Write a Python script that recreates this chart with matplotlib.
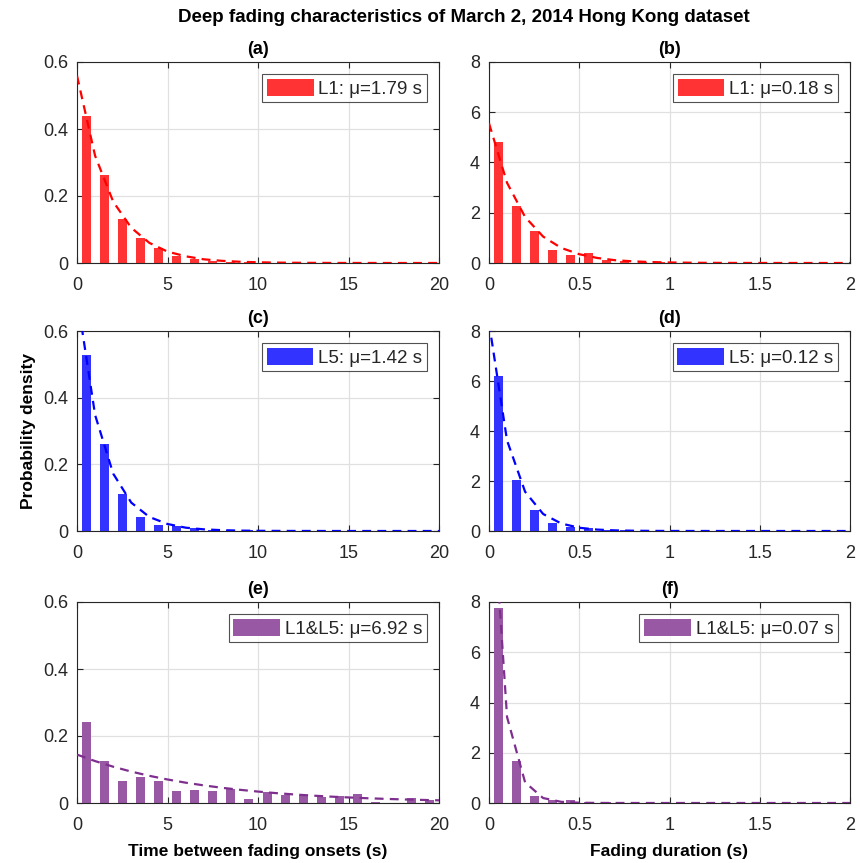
import matplotlib
matplotlib.use("Agg")
import matplotlib.pyplot as plt
import numpy as np

plt.rcParams['font.family'] = ['Liberation Sans', 'DejaVu Sans']

# bin edges (s)
onset_edges = np.arange(0, 21, 1.0)
duration_edges = np.arange(0, 2.001, 0.1)

# histogram densities
a_bars = [0.439, 0.264, 0.131, 0.075, 0.046, 0.021, 0.011, 0.005, 0.003, 0.002,
          0.001, 0.001, 0.0005, 0.0005, 0.0003, 0.0002, 0.0002, 0.0001, 0.0001, 0.0001]
b_bars = [4.80, 2.25, 1.28, 0.53, 0.33, 0.38, 0.10, 0.06, 0.03, 0.02,
          0.01, 0.01, 0.005, 0.005, 0.003, 0.002, 0.002, 0.001, 0.001, 0.001]
c_bars = [0.529, 0.262, 0.111, 0.043, 0.017, 0.014, 0.008, 0.004, 0.003, 0.002,
          0.001, 0.001, 0.0005, 0.0005, 0.0003, 0.0002, 0.0002, 0.0001, 0.0001, 0.0001]
d_bars = [6.22, 2.05, 0.86, 0.34, 0.15, 0.12, 0.06, 0.04, 0.02, 0.01,
          0.01, 0.005, 0.004, 0.003, 0.002, 0.001, 0.001, 0.001, 0.0, 0.0]
e_bars = [0.243, 0.126, 0.066, 0.078, 0.066, 0.035, 0.040, 0.036, 0.043, 0.012,
          0.033, 0.024, 0.024, 0.018, 0.022, 0.028, 0.003, 0.0, 0.016, 0.010]
f_bars = [7.76, 1.68, 0.26, 0.13, 0.10, 0.03, 0.02, 0.01, 0.005, 0.003,
          0.002, 0.001, 0.001, 0.0, 0.0, 0.0, 0.0, 0.0, 0.0, 0.0]

# exponential fit values at the bin edges
a_fit = [0.559, 0.320, 0.183, 0.105, 0.060, 0.034, 0.020, 0.011, 0.0065, 0.0037, 0.0021,
         0.0012, 0.0007, 0.0004, 0.0002, 0.0001, 0.0001, 0.0, 0.0, 0.0, 0.0]
b_fit = [5.56, 3.19, 1.83, 1.05, 0.60, 0.35, 0.20, 0.11, 0.065, 0.037, 0.021,
         0.012, 0.007, 0.004, 0.0023, 0.0013, 0.0008, 0.0004, 0.0002, 0.0001, 0.0001]
c_fit = [0.704, 0.348, 0.172, 0.085, 0.042, 0.021, 0.010, 0.005, 0.0025, 0.0012, 0.0006,
         0.0003, 0.00015, 0.0001, 0.0, 0.0, 0.0, 0.0, 0.0, 0.0, 0.0]
d_fit = [8.33, 3.62, 1.57, 0.68, 0.30, 0.13, 0.056, 0.024, 0.011, 0.0046, 0.002,
         0.0009, 0.0004, 0.0002, 0.0001, 0.0, 0.0, 0.0, 0.0, 0.0, 0.0]
e_fit = [0.1445, 0.1251, 0.1083, 0.0937, 0.0811, 0.0702, 0.0607, 0.0526, 0.0455, 0.0394, 0.0341,
         0.0295, 0.0255, 0.0221, 0.0191, 0.0166, 0.0143, 0.0124, 0.0107, 0.0093, 0.0080]
f_fit = [14.29, 3.42, 0.82, 0.197, 0.047, 0.011, 0.0027, 0.0006, 0.0002, 0.0, 0.0,
         0.0, 0.0, 0.0, 0.0, 0.0, 0.0, 0.0, 0.0, 0.0, 0.0]

panel_labels = ['(a)', '(b)', '(c)', '(d)', '(e)', '(f)']
legend_labels = ['L1: μ=1.79 s', 'L1: μ=0.18 s', 'L5: μ=1.42 s', 'L5: μ=0.12 s',
                 'L1&L5: μ=6.92 s', 'L1&L5: μ=0.07 s']

bar_colors = ['#FF3333', '#FF3333', '#3333FF', '#3333FF', '#9858A4', '#9858A4']
line_colors = ['#FF0000', '#FF0000', '#0000FF', '#0000FF', '#7E2F8E', '#7E2F8E']

W, H = 860, 863
fig = plt.figure(figsize=(W / 100, H / 100), dpi=100)

cols = [(77, 439), (489, 850)]
rows = [(62, 263), (331, 531), (602, 803)]

bars = [a_bars, b_bars, c_bars, d_bars, e_bars, f_bars]
fits = [a_fit, b_fit, c_fit, d_fit, e_fit, f_fit]
dark = '#262626'

for i in range(6):
    r, c = divmod(i, 2)
    x0, x1 = cols[c]
    yt, yb = rows[r]
    ax = fig.add_axes([x0 / W, 1 - yb / H, (x1 - x0) / W, (yb - yt) / H])
    edges = onset_edges if c == 0 else duration_edges
    centers = (edges[:-1] + edges[1:]) / 2
    bw = edges[1] - edges[0]
    ax.bar(centers, bars[i], width=0.5 * bw, color=bar_colors[i], linewidth=0,
           label=legend_labels[i], zorder=2)
    ax.plot(edges, fits[i], color=line_colors[i], lw=1.6, dashes=(4, 2.8), zorder=3)

    if c == 0:
        ax.set_xlim(0, 20)
        ax.set_xticks([0, 5, 10, 15, 20])
        ax.set_ylim(0, 0.6)
        ax.set_yticks([0, 0.2, 0.4, 0.6])
        ax.set_yticklabels(['0', '0.2', '0.4', '0.6'])
    else:
        ax.set_xlim(0, 2)
        ax.set_xticks([0, 0.5, 1, 1.5, 2])
        ax.set_xticklabels(['0', '0.5', '1', '1.5', '2'])
        ax.set_ylim(0, 8)
        ax.set_yticks([0, 2, 4, 6, 8])

    ax.grid(True, color='#E0E0E0', lw=0.9, zorder=0)
    ax.set_axisbelow(True)
    ax.tick_params(direction='in', length=4, width=0.8, colors=dark, labelsize=13,
                   top=True, right=True)
    ax.tick_params(axis='x', pad=10)
    ax.tick_params(axis='y', pad=6.5)
    for s in ax.spines.values():
        s.set_color(dark)
        s.set_linewidth(0.8)

    ax.set_title(panel_labels[i], fontsize=13, fontweight='bold', pad=6)
    leg = ax.legend(loc='upper right', fontsize=13.5, frameon=True, fancybox=False,
                    handlelength=2.5, handleheight=1.0, handletextpad=0.25,
                    borderpad=0.25, borderaxespad=0.65)
    leg.get_frame().set_edgecolor(dark)
    leg.get_frame().set_linewidth(0.8)
    for t in leg.get_texts():
        t.set_color(dark)

    if i == 2:
        ax.set_ylabel('Probability density', fontsize=12.5, fontweight='bold', labelpad=5)
    if i == 4:
        ax.set_xlabel('Time between fading onsets (s)', fontsize=12.5, fontweight='bold', labelpad=7)
    if i == 5:
        ax.set_xlabel('Fading duration (s)', fontsize=12.5, fontweight='bold', labelpad=7)

fig.text(463.5 / W, 1 - 17 / H,
         'Deep fading characteristics of March 2, 2014 Hong Kong dataset',
         fontsize=13.5, fontweight='bold', ha='center', va='center')

plt.savefig('out.png', dpi=100)
